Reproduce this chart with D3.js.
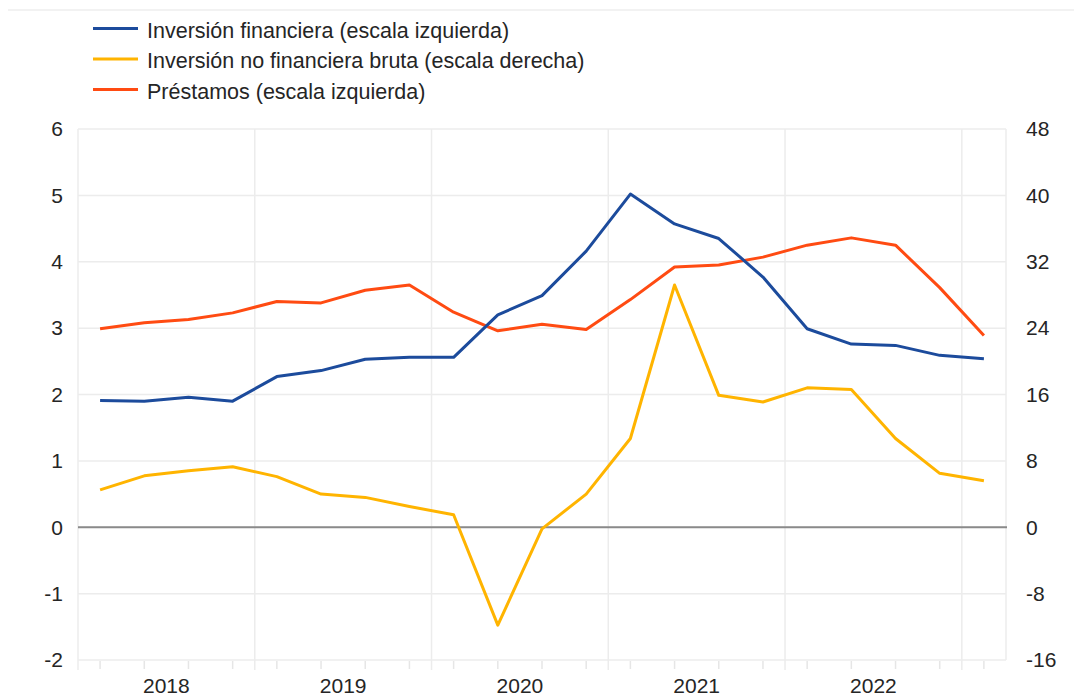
<!DOCTYPE html>
<html>
<head>
<meta charset="utf-8">
<script src="https://cdn.jsdelivr.net/npm/d3@7"></script>
<style>
  html, body { margin: 0; padding: 0; background: #fff; }
  svg { display: block; font-family: "Liberation Sans", Arial, sans-serif; }
</style>
</head>
<body>
<svg id="chart" width="1074" height="697"></svg>
<script>
// ---- data (quarterly, 2018Q1 .. 2023Q1) ----
const quarters = ["2018Q1","2018Q2","2018Q3","2018Q4","2019Q1","2019Q2","2019Q3","2019Q4",
  "2020Q1","2020Q2","2020Q3","2020Q4","2021Q1","2021Q2","2021Q3","2021Q4",
  "2022Q1","2022Q2","2022Q3","2022Q4","2023Q1"];
const inversionFinanciera = [1.91,1.90,1.96,1.90,2.27,2.36,2.53,2.56,2.56,3.20,3.49,4.16,5.02,4.57,4.35,3.77,2.99,2.76,2.74,2.59,2.54];
const inversionNoFinanciera = [4.5,6.2,6.8,7.3,6.1,4.0,3.6,2.5,1.5,-11.8,-0.2,4.0,10.7,29.2,15.9,15.1,16.8,16.6,10.7,6.5,5.6];
const prestamos = [2.99,3.08,3.13,3.23,3.40,3.38,3.57,3.65,3.24,2.96,3.06,2.98,3.43,3.92,3.95,4.07,4.25,4.36,4.25,3.61,2.89];
const years = ["2018","2019","2020","2021","2022"];
const leftTicks = [-2,-1,0,1,2,3,4,5,6];
const rightTicks = [-16,-8,0,8,16,24,32,40,48];
const legendLabels = ["Inversión financiera (escala izquierda)",
  "Inversión no financiera bruta (escala derecha)",
  "Préstamos (escala izquierda)"];
const colors = ["#1c4b9c", "#ffb400", "#ff4b12"];

// ---- layout ----
const svg = d3.select("#chart");
const plot = {left: 78, right: 1006, top: 129, bottom: 660};

const x = d3.scaleLinear().domain([0, quarters.length]).range([plot.left, plot.right]);
const yL = d3.scaleLinear().domain([-2, 6]).range([plot.bottom, plot.top]);
const yR = d3.scaleLinear().domain([-16, 48]).range([plot.bottom, plot.top]);

// faint top rule
svg.append("line").attr("x1", 8).attr("x2", 1074).attr("y1", 10).attr("y2", 10)
  .attr("stroke", "#eeeeee").attr("stroke-width", 1.5);

// horizontal gridlines
svg.append("g").selectAll("line").data(leftTicks).join("line")
  .attr("x1", plot.left).attr("x2", plot.right)
  .attr("y1", d => yL(d)).attr("y2", d => yL(d))
  .attr("stroke", "#ececec").attr("stroke-width", 1.5);

// vertical year gridlines (extend below axis)
const yearBounds = d3.range(0, quarters.length + 1, 4);
svg.append("g").selectAll("line").data(yearBounds).join("line")
  .attr("x1", d => x(d)).attr("x2", d => x(d))
  .attr("y1", plot.top).attr("y2", plot.bottom + 10)
  .attr("stroke", "#ececec").attr("stroke-width", 1.5);

// right border
svg.append("line").attr("x1", plot.right).attr("x2", plot.right)
  .attr("y1", plot.top).attr("y2", plot.bottom)
  .attr("stroke", "#ececec").attr("stroke-width", 1.5);

// quarter ticks below axis
svg.append("g").selectAll("line").data(quarters).join("line")
  .attr("x1", (d, i) => x(i + 0.5)).attr("x2", (d, i) => x(i + 0.5))
  .attr("y1", plot.bottom + 1).attr("y2", plot.bottom + 9)
  .attr("stroke", "#e6e6e6").attr("stroke-width", 1.5);

// zero line
svg.append("line").attr("x1", plot.left).attr("x2", plot.right + 1)
  .attr("y1", yL(0)).attr("y2", yL(0))
  .attr("stroke", "#8a8a8a").attr("stroke-width", 2);

// left axis labels
svg.append("g").selectAll("text").data(leftTicks).join("text")
  .attr("x", 63).attr("y", d => yL(d)).attr("dy", "0.35em")
  .attr("text-anchor", "end").attr("font-size", 21).attr("fill", "#252525")
  .text(d => d);

// right axis labels
svg.append("g").selectAll("text").data(rightTicks).join("text")
  .attr("x", 1026).attr("y", d => yR(d)).attr("dy", "0.35em")
  .attr("text-anchor", "start").attr("font-size", 21).attr("fill", "#252525")
  .text(d => d);

// year labels
svg.append("g").selectAll("text").data(years).join("text")
  .attr("x", (d, i) => x(i * 4 + 2)).attr("y", 693)
  .attr("text-anchor", "middle").attr("font-size", 21).attr("fill", "#252525")
  .text(d => d);

// lines
const lineL = d3.line().x((d, i) => x(i + 0.5)).y(d => yL(d));
const lineR = d3.line().x((d, i) => x(i + 0.5)).y(d => yR(d));

svg.append("path").datum(inversionNoFinanciera).attr("d", lineR)
  .attr("fill", "none").attr("stroke", colors[1]).attr("stroke-width", 3).attr("stroke-linejoin", "round");
svg.append("path").datum(prestamos).attr("d", lineL)
  .attr("fill", "none").attr("stroke", colors[2]).attr("stroke-width", 3).attr("stroke-linejoin", "round");
svg.append("path").datum(inversionFinanciera).attr("d", lineL)
  .attr("fill", "none").attr("stroke", colors[0]).attr("stroke-width", 3).attr("stroke-linejoin", "round");

// legend
const lg = svg.append("g").selectAll("g").data(legendLabels).join("g")
  .attr("transform", (d, i) => `translate(0, ${28.5 + i * 30.5})`);
lg.append("line").attr("x1", 93).attr("x2", 138).attr("y1", 0).attr("y2", 0)
  .attr("stroke", (d, i) => colors[i]).attr("stroke-width", 3);
lg.append("text").attr("x", 147).attr("y", 1.5).attr("dy", "0.35em")
  .attr("font-size", 21.5).attr("fill", "#252525").text(d => d);
</script>
</body>
</html>
